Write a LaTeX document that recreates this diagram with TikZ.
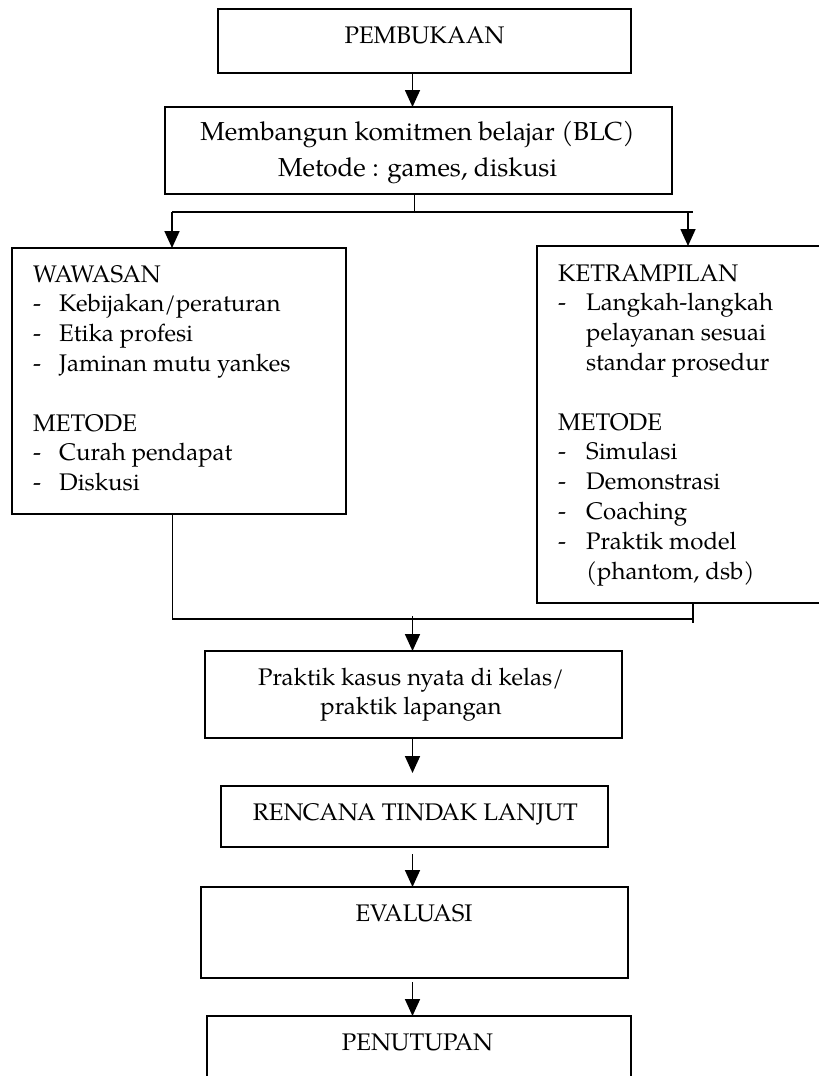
\documentclass[tikz,border=0pt]{standalone}
\usepackage{fontspec}
\setmainfont{texgyrepagella-regular.otf}
\usetikzlibrary{arrows.meta}
\begin{document}
\begin{tikzpicture}[x=1pt,y=-1pt,
  box/.style={draw, line width=1.8pt, inner sep=0pt, outer sep=0pt},
  con/.style={line width=1.7pt},
  arr/.style={con, -{Triangle[length=17pt,width=15pt]}},
  txt/.style={inner sep=0pt, font=\fontsize{24}{29.8}\selectfont},
  big/.style={inner sep=0pt, font=\fontsize{26}{36}\selectfont}]
\useasboundingbox (0,0) rectangle (819,1076);
\clip (0,0) rectangle (819,1076);
% boxes
\node[box, minimum width=413pt, minimum height=64pt] (pem) at (424.5,41) {};
\node[box, minimum width=507pt, minimum height=87pt] (blc) at (418.5,150.5) {};
\node[box, minimum width=334pt, minimum height=266pt] (waw) at (179,381) {};
\node[box, minimum width=300pt, minimum height=357pt] (ket) at (687,424.5) {};
\node[box, minimum width=417pt, minimum height=87pt] (prak) at (413.5,694.5) {};
\node[box, minimum width=387pt, minimum height=61pt] (ren) at (414.5,816.5) {};
\node[box, minimum width=427pt, minimum height=91pt] (eva) at (414.5,932.5) {};
\node[box, minimum width=424pt, minimum height=90pt] (pen) at (419,1061) {};
% texts
\node[txt, anchor=base] (pemT) at (424.5,43.3) {PEMBUKAAN};
\node[big, anchor=base] (blcT) at (417.5,140.5) {\begin{tabular}[t]{@{}c@{}}Membangun komitmen belajar (BLC)\\Metode : games, diskusi\end{tabular}};
\node[txt, anchor=base west] (wawT) at (33,282) {\begin{tabular}[t]{@{}l@{}}
WAWASAN\\
\makebox[26pt][l]{-}Kebijakan/peraturan\\
\makebox[26pt][l]{-}Etika profesi\\
\makebox[26pt][l]{-}Jaminan mutu yankes\\
\\
METODE\\
\makebox[26pt][l]{-}Curah pendapat\\
\makebox[26pt][l]{-}Diskusi
\end{tabular}};
\node[txt, anchor=base west] (ketT) at (558,281) {\begin{tabular}[t]{@{}l@{}}
KETRAMPILAN\\
\makebox[28pt][l]{-}Langkah-langkah\\
\hspace*{28pt}pelayanan sesuai\\
\hspace*{28pt}standar prosedur\\
\\
METODE\\
\makebox[28pt][l]{-}Simulasi\\
\makebox[28pt][l]{-}Demonstrasi\\
\makebox[28pt][l]{-}Coaching\\
\makebox[28pt][l]{-}Praktik model\\
\hspace*{28pt}(phantom, dsb)
\end{tabular}};
\node[txt, anchor=base] (prakT) at (411,685) {\begin{tabular}[t]{@{}c@{}}Praktik kasus nyata di kelas/\\praktik lapangan\end{tabular}};
\node[txt, anchor=base] (renT) at (415.4,820) {RENCANA TINDAK LANJUT};
\node[txt, anchor=base] (evaT) at (414,921.7) {EVALUASI};
\node[txt, anchor=base] (penT) at (417.5,1050.5) {PENUTUPAN};
% connectors
\coordinate (cx) at (412.5,0);
\coordinate (sM) at (414.5,212);
\coordinate (sL) at (172,212);
\coordinate (sR) at (693,212);
\coordinate (sRa) at (688,212);
\coordinate (mL) at (172.5,619);
\coordinate (mR) at (693,619);
\coordinate (mM) at (412.5,619);
\draw[arr] (pem.south -| cx) -- (blc.north -| cx);
\draw[con] (blc.south -| sM) -- (sM);
\draw[con] (sL) -- (sR);
\draw[arr] (sL) -- (waw.north -| sL);
\draw[arr] (sRa) -- (ket.north -| sRa);
\draw[con] (waw.south -| mL) -- (mL) -- (mR);
\draw[con] (ket.south -| mR) -- ([yshift=-4pt]mR);
\draw[arr] ([yshift=3pt]mM) -- (prak.north -| mM);
\draw[arr, shorten >=13pt] (prak.south -| cx) -- (ren.north -| cx);
\draw[arr, shorten <=7pt] (ren.south -| cx) -- (eva.north -| cx);
\draw[arr, shorten <=4pt] (eva.south -| cx) -- (pen.north -| cx);
\end{tikzpicture}
\end{document}
